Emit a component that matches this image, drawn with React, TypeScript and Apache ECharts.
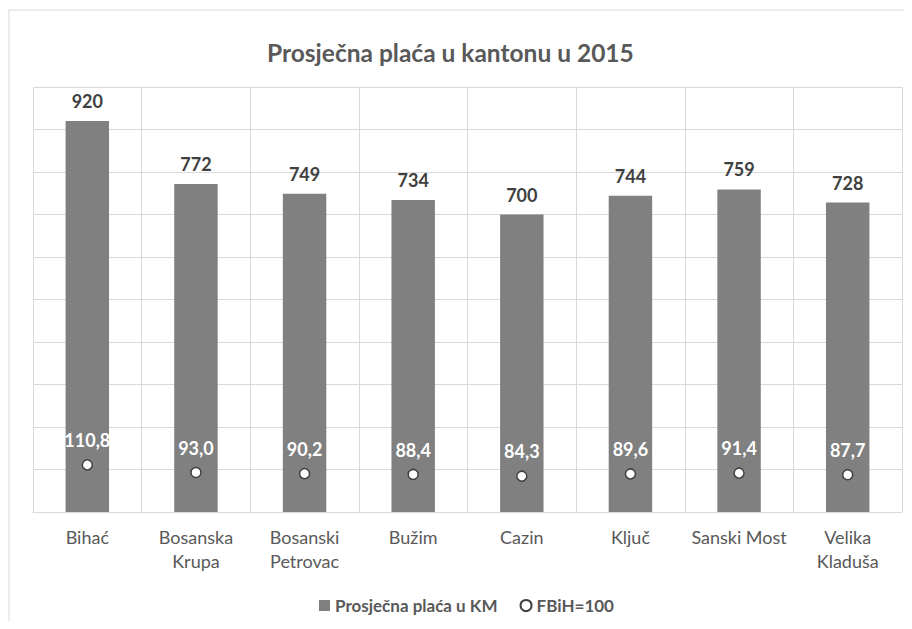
import React, { useEffect, useRef } from "react";
import * as echarts from "echarts";

const categories = ["Bihać", "Bosanska\nKrupa", "Bosanski\nPetrovac", "Bužim", "Cazin", "Ključ", "Sanski Most", "Velika\nKladuša"];
const placaKM = [920, 772, 749, 734, 700, 744, 759, 728];
const fbih100 = [110.8, 93.0, 90.2, 88.4, 84.3, 89.6, 91.4, 87.7];
const titleText = "Prosječna plaća u kantonu u 2015";
const barName = "Prosječna plaća u KM";
const lineName = "FBiH=100";

const FONT = "Lato, 'Open Sans', sans-serif";

export default function App() {
  const ref = useRef<HTMLDivElement>(null);
  useEffect(() => {
    const chart = echarts.init(ref.current!, null, { renderer: "svg" });
    chart.setOption({
      animation: false,
      textStyle: { fontFamily: FONT },
      title: {
        text: titleText,
        left: 259,
        top: 32,
        padding: 0,
        textStyle: { fontFamily: FONT, fontSize: 24.5, fontWeight: "bold", color: "#595959" },
      },
      graphic: [
        {
          type: "rect",
          shape: { x: 1, y: 2, width: 2000, height: 2000 },
          style: { fill: "none", stroke: "#d9d9d9", lineWidth: 1 },
          silent: true,
        },
      ],
      legend: {
        left: 306,
        top: 584,
        itemWidth: 11,
        itemHeight: 11,
        itemGap: 22,
        textStyle: { fontFamily: FONT, fontSize: 17, fontWeight: "bold", color: "#595959" },
        data: [
          { name: barName, icon: "rect" },
          { name: lineName, icon: "circle" },
        ],
      },
      grid: { left: 25, right: 2, top: 79, bottom: 109 },
      xAxis: {
        type: "category",
        data: categories,
        axisTick: { show: false },
        axisLine: { lineStyle: { color: "#d9d9d9" } },
        splitLine: { show: true, lineStyle: { color: "#d9d9d9", width: 1 } },
        axisLabel: {
          color: "#595959",
          fontFamily: FONT,
          fontSize: 18,
          lineHeight: 24,
          margin: 13,
          interval: 0,
        },
      },
      yAxis: {
        type: "value",
        min: 0,
        max: 1000,
        interval: 100,
        axisLabel: { show: false },
        axisLine: { show: false },
        axisTick: { show: false },
        splitLine: { lineStyle: { color: "#d9d9d9", width: 1 } },
      },
      series: [
        {
          name: barName,
          type: "bar",
          data: placaKM,
          barWidth: "40%",
          itemStyle: { color: "#808080" },
          label: {
            show: true,
            position: "top",
            distance: 11,
            color: "#404040",
            fontFamily: FONT,
            fontSize: 18,
            fontWeight: "bold",
          },
        },
        {
          name: lineName,
          type: "line",
          data: fbih100,
          z: 5,
          symbol: "circle",
          symbolSize: 10,
          lineStyle: { width: 0, opacity: 0 },
          itemStyle: { color: "#ffffff", borderColor: "#404040", borderWidth: 1.5 },
          label: {
            show: true,
            position: "top",
            distance: 10,
            color: "#ffffff",
            fontFamily: FONT,
            fontSize: 18,
            fontWeight: "bold",
            formatter: (p: any) => Number(p.value).toFixed(1).replace(".", ","),
          },
        },
      ],
    });
    return () => chart.dispose();
  }, []);
  return <div ref={ref} style={{ width: "896px", height: "613px" }} />;
}
